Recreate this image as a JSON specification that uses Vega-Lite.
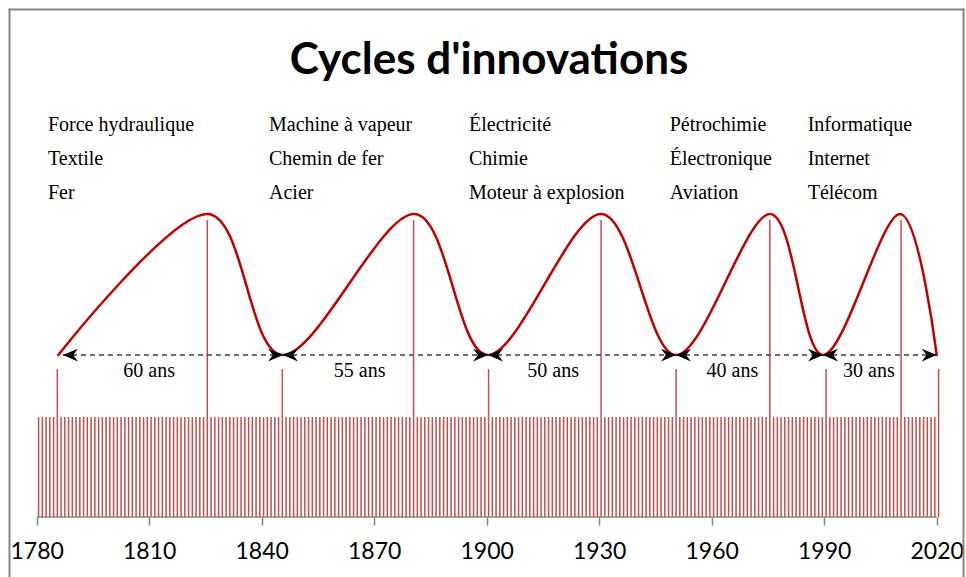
{
  "$schema": "https://vega.github.io/schema/vega-lite/v6.json",
  "width": 954,
  "height": 568,
  "autosize": {"type": "none"},
  "padding": {"left": 9, "top": 9, "right": 3, "bottom": 0},
  "background": "white",
  "title": {"text": "Cycles d'innovations", "font": "Lato", "fontSize": 44, "fontWeight": "bold", "color": "black", "anchor": "middle", "offset": -74, "dx": 3},
  "config": {"view": {"stroke": null}, "axis": {"grid": false}},
  "datasets": {
    "bars": [
      {"year":1780,"v":1},{"year":1781,"v":1},{"year":1782,"v":1},{"year":1783,"v":1},{"year":1784,"v":1},{"year":1785,"v":1.48},{"year":1786,"v":1},{"year":1787,"v":1},{"year":1788,"v":1},{"year":1789,"v":1},
      {"year":1790,"v":1},{"year":1791,"v":1},{"year":1792,"v":1},{"year":1793,"v":1},{"year":1794,"v":1},{"year":1795,"v":1},{"year":1796,"v":1},{"year":1797,"v":1},{"year":1798,"v":1},{"year":1799,"v":1},
      {"year":1800,"v":1},{"year":1801,"v":1},{"year":1802,"v":1},{"year":1803,"v":1},{"year":1804,"v":1},{"year":1805,"v":1},{"year":1806,"v":1},{"year":1807,"v":1},{"year":1808,"v":1},{"year":1809,"v":1},
      {"year":1810,"v":1},{"year":1811,"v":1},{"year":1812,"v":1},{"year":1813,"v":1},{"year":1814,"v":1},{"year":1815,"v":1},{"year":1816,"v":1},{"year":1817,"v":1},{"year":1818,"v":1},{"year":1819,"v":1},
      {"year":1820,"v":1},{"year":1821,"v":1},{"year":1822,"v":1},{"year":1823,"v":1},{"year":1824,"v":1},{"year":1825,"v":2.97},{"year":1826,"v":1},{"year":1827,"v":1},{"year":1828,"v":1},{"year":1829,"v":1},
      {"year":1830,"v":1},{"year":1831,"v":1},{"year":1832,"v":1},{"year":1833,"v":1},{"year":1834,"v":1},{"year":1835,"v":1},{"year":1836,"v":1},{"year":1837,"v":1},{"year":1838,"v":1},{"year":1839,"v":1},
      {"year":1840,"v":1},{"year":1841,"v":1},{"year":1842,"v":1},{"year":1843,"v":1},{"year":1844,"v":1},{"year":1845,"v":1.48},{"year":1846,"v":1},{"year":1847,"v":1},{"year":1848,"v":1},{"year":1849,"v":1},
      {"year":1850,"v":1},{"year":1851,"v":1},{"year":1852,"v":1},{"year":1853,"v":1},{"year":1854,"v":1},{"year":1855,"v":1},{"year":1856,"v":1},{"year":1857,"v":1},{"year":1858,"v":1},{"year":1859,"v":1},
      {"year":1860,"v":1},{"year":1861,"v":1},{"year":1862,"v":1},{"year":1863,"v":1},{"year":1864,"v":1},{"year":1865,"v":1},{"year":1866,"v":1},{"year":1867,"v":1},{"year":1868,"v":1},{"year":1869,"v":1},
      {"year":1870,"v":1},{"year":1871,"v":1},{"year":1872,"v":1},{"year":1873,"v":1},{"year":1874,"v":1},{"year":1875,"v":1},{"year":1876,"v":1},{"year":1877,"v":1},{"year":1878,"v":1},{"year":1879,"v":1},
      {"year":1880,"v":2.97},{"year":1881,"v":1},{"year":1882,"v":1},{"year":1883,"v":1},{"year":1884,"v":1},{"year":1885,"v":1},{"year":1886,"v":1},{"year":1887,"v":1},{"year":1888,"v":1},{"year":1889,"v":1},
      {"year":1890,"v":1},{"year":1891,"v":1},{"year":1892,"v":1},{"year":1893,"v":1},{"year":1894,"v":1},{"year":1895,"v":1},{"year":1896,"v":1},{"year":1897,"v":1},{"year":1898,"v":1},{"year":1899,"v":1},
      {"year":1900,"v":1.48},{"year":1901,"v":1},{"year":1902,"v":1},{"year":1903,"v":1},{"year":1904,"v":1},{"year":1905,"v":1},{"year":1906,"v":1},{"year":1907,"v":1},{"year":1908,"v":1},{"year":1909,"v":1},
      {"year":1910,"v":1},{"year":1911,"v":1},{"year":1912,"v":1},{"year":1913,"v":1},{"year":1914,"v":1},{"year":1915,"v":1},{"year":1916,"v":1},{"year":1917,"v":1},{"year":1918,"v":1},{"year":1919,"v":1},
      {"year":1920,"v":1},{"year":1921,"v":1},{"year":1922,"v":1},{"year":1923,"v":1},{"year":1924,"v":1},{"year":1925,"v":1},{"year":1926,"v":1},{"year":1927,"v":1},{"year":1928,"v":1},{"year":1929,"v":1},
      {"year":1930,"v":2.97},{"year":1931,"v":1},{"year":1932,"v":1},{"year":1933,"v":1},{"year":1934,"v":1},{"year":1935,"v":1},{"year":1936,"v":1},{"year":1937,"v":1},{"year":1938,"v":1},{"year":1939,"v":1},
      {"year":1940,"v":1},{"year":1941,"v":1},{"year":1942,"v":1},{"year":1943,"v":1},{"year":1944,"v":1},{"year":1945,"v":1},{"year":1946,"v":1},{"year":1947,"v":1},{"year":1948,"v":1},{"year":1949,"v":1},
      {"year":1950,"v":1.48},{"year":1951,"v":1},{"year":1952,"v":1},{"year":1953,"v":1},{"year":1954,"v":1},{"year":1955,"v":1},{"year":1956,"v":1},{"year":1957,"v":1},{"year":1958,"v":1},{"year":1959,"v":1},
      {"year":1960,"v":1},{"year":1961,"v":1},{"year":1962,"v":1},{"year":1963,"v":1},{"year":1964,"v":1},{"year":1965,"v":1},{"year":1966,"v":1},{"year":1967,"v":1},{"year":1968,"v":1},{"year":1969,"v":1},
      {"year":1970,"v":1},{"year":1971,"v":1},{"year":1972,"v":1},{"year":1973,"v":1},{"year":1974,"v":1},{"year":1975,"v":2.97},{"year":1976,"v":1},{"year":1977,"v":1},{"year":1978,"v":1},{"year":1979,"v":1},
      {"year":1980,"v":1},{"year":1981,"v":1},{"year":1982,"v":1},{"year":1983,"v":1},{"year":1984,"v":1},{"year":1985,"v":1},{"year":1986,"v":1},{"year":1987,"v":1},{"year":1988,"v":1},{"year":1989,"v":1},
      {"year":1990,"v":1.48},{"year":1991,"v":1},{"year":1992,"v":1},{"year":1993,"v":1},{"year":1994,"v":1},{"year":1995,"v":1},{"year":1996,"v":1},{"year":1997,"v":1},{"year":1998,"v":1},{"year":1999,"v":1},
      {"year":2000,"v":1},{"year":2001,"v":1},{"year":2002,"v":1},{"year":2003,"v":1},{"year":2004,"v":1},{"year":2005,"v":1},{"year":2006,"v":1},{"year":2007,"v":1},{"year":2008,"v":1},{"year":2009,"v":1},
      {"year":2010,"v":2.97},{"year":2011,"v":1},{"year":2012,"v":1},{"year":2013,"v":1},{"year":2014,"v":1},{"year":2015,"v":1},{"year":2016,"v":1},{"year":2017,"v":1},{"year":2018,"v":1},{"year":2019,"v":1},
      {"year":2020,"v":1.48}
    ],
    "curve": [
      {"year":1785.76,"v":1.62},{"year":1825.41,"v":3.03},{"year":1845.68,"v":1.62},{"year":1880.61,"v":3.03},{"year":1900.35,"v":1.62},
      {"year":1930.48,"v":3.03},{"year":1950.48,"v":1.62},{"year":1975.55,"v":3.03},{"year":1989.68,"v":1.62},{"year":2010.21,"v":3.03},{"year":2020,"v":1.62}
    ],
    "arrows": [
      {"a":1787.0,"b":1845.68},{"a":1845.68,"b":1900.35},{"a":1900.35,"b":1950.48},{"a":1950.48,"b":1989.68},{"a":1989.68,"b":2020}
    ],
    "labels": [
      {"x":1783.0,"y":3.86,"t":"Force hydraulique"},{"x":1783.0,"y":3.52,"t":"Textile"},{"x":1783.0,"y":3.18,"t":"Fer"},
      {"x":1841.95,"y":3.86,"t":"Machine à vapeur"},{"x":1841.95,"y":3.52,"t":"Chemin de fer"},{"x":1841.95,"y":3.18,"t":"Acier"},
      {"x":1895.28,"y":3.86,"t":"Électricité"},{"x":1895.28,"y":3.52,"t":"Chimie"},{"x":1895.28,"y":3.18,"t":"Moteur à explosion"},
      {"x":1948.8,"y":3.86,"t":"Pétrochimie"},{"x":1948.8,"y":3.52,"t":"Électronique"},{"x":1948.8,"y":3.18,"t":"Aviation"},
      {"x":1985.6,"y":3.86,"t":"Informatique"},{"x":1985.6,"y":3.52,"t":"Internet"},{"x":1985.6,"y":3.18,"t":"Télécom"}
    ],
    "spans": [
      {"x":1810.0,"y":1.40,"t":"60 ans"},{"x":1866.1,"y":1.40,"t":"55 ans"},{"x":1917.7,"y":1.40,"t":"50 ans"},{"x":1965.5,"y":1.40,"t":"40 ans"},{"x":2001.9,"y":1.40,"t":"30 ans"}
    ]
  },
  "layer": [
    {
      "data": {"name": "bars"},
      "mark": {"type": "rule", "color": "#C0504D", "strokeWidth": 1.5, "xOffset": 1.875},
      "encoding": {
        "x": {"field": "year", "type": "quantitative", "scale": {"domain": [1772.613, 2027.013], "nice": false, "zero": false},
              "axis": {"orient": "bottom", "offset": -60, "values": [1780, 1810, 1840, 1870, 1900, 1930, 1960, 1990, 2020], "format": "d", "domain": false, "ticks": true, "tickColor": "#868686", "tickWidth": 1.5, "tickSize": 8, "labelFont": "Lato", "labelFontSize": 23, "labelColor": "black", "labelBaseline": "alphabetic", "labelPadding": 33, "labelFlush": false, "labelOverlap": false, "title": null}},
        "y": {"field": "v", "type": "quantitative", "scale": {"domain": [-0.6, 5.08], "nice": false, "zero": false},
              "axis": {"orient": "left", "domain": true, "domainColor": "#868686", "domainWidth": 2, "domainCap": "square", "ticks": false, "labels": false, "title": null}},
        "y2": {"datum": 0}
      }
    },
    {
      "data": {"values": [{}]},
      "mark": {"type": "rule", "color": "#868686", "strokeWidth": 1.5},
      "encoding": {
        "x": {"datum": 1780, "type": "quantitative", "scale": {"domain": [1772.613, 2027.013], "nice": false, "zero": false},
              "axis": {"orient": "top", "domain": true, "domainColor": "#868686", "domainWidth": 2, "domainCap": "square", "ticks": false, "labels": false, "title": null}},
        "x2": {"datum": 2020},
        "y": {"datum": 0, "type": "quantitative", "scale": {"domain": [-0.6, 5.08], "nice": false, "zero": false},
              "axis": {"orient": "right", "domain": true, "domainColor": "#868686", "domainWidth": 2, "domainCap": "square", "ticks": false, "labels": false, "title": null}}
      }
    },
    {
      "data": {"name": "curve"},
      "mark": {"type": "line", "color": "#C00000", "strokeWidth": 2.5, "interpolate": "cardinal", "tension": 0, "strokeCap": "round"},
      "encoding": {
        "x": {"field": "year", "type": "quantitative", "scale": {"domain": [1772.613, 2027.013], "nice": false, "zero": false}, "axis": null},
        "y": {"field": "v", "type": "quantitative", "scale": {"domain": [-0.6, 5.08], "nice": false, "zero": false}, "axis": null}
      }
    },
    {
      "data": {"name": "arrows"},
      "mark": {"type": "rule", "color": "#404040", "strokeWidth": 1.5, "strokeDash": [5, 4]},
      "encoding": {
        "x": {"field": "a", "type": "quantitative", "scale": {"domain": [1772.613, 2027.013], "nice": false, "zero": false}, "axis": null},
        "x2": {"field": "b"},
        "y": {"datum": 1.62, "type": "quantitative", "scale": {"domain": [-0.6, 5.08], "nice": false, "zero": false}, "axis": null}
      }
    },
    {
      "data": {"name": "arrows"},
      "mark": {"type": "point", "shape": "M0,0L2,-0.85L1.35,0L2,0.85Z", "filled": true, "color": "black", "opacity": 1, "size": 225},
      "encoding": {
        "x": {"field": "a", "type": "quantitative", "scale": {"domain": [1772.613, 2027.013], "nice": false, "zero": false}, "axis": null},
        "y": {"datum": 1.62, "type": "quantitative", "scale": {"domain": [-0.6, 5.08], "nice": false, "zero": false}, "axis": null}
      }
    },
    {
      "data": {"name": "arrows"},
      "mark": {"type": "point", "shape": "M0,0L-2,-0.85L-1.35,0L-2,0.85Z", "filled": true, "color": "black", "opacity": 1, "size": 225},
      "encoding": {
        "x": {"field": "b", "type": "quantitative", "scale": {"domain": [1772.613, 2027.013], "nice": false, "zero": false}, "axis": null},
        "y": {"datum": 1.62, "type": "quantitative", "scale": {"domain": [-0.6, 5.08], "nice": false, "zero": false}, "axis": null}
      }
    },
    {
      "data": {"name": "labels"},
      "mark": {"type": "text", "align": "left", "baseline": "alphabetic", "font": "Liberation Serif", "fontSize": 20, "color": "black"},
      "encoding": {
        "x": {"field": "x", "type": "quantitative", "scale": {"domain": [1772.613, 2027.013], "nice": false, "zero": false}, "axis": null},
        "y": {"field": "y", "type": "quantitative", "scale": {"domain": [-0.6, 5.08], "nice": false, "zero": false}, "axis": null},
        "text": {"field": "t"}
      }
    },
    {
      "data": {"name": "spans"},
      "mark": {"type": "text", "align": "center", "baseline": "alphabetic", "font": "Liberation Serif", "fontSize": 20, "color": "black"},
      "encoding": {
        "x": {"field": "x", "type": "quantitative", "scale": {"domain": [1772.613, 2027.013], "nice": false, "zero": false}, "axis": null},
        "y": {"field": "y", "type": "quantitative", "scale": {"domain": [-0.6, 5.08], "nice": false, "zero": false}, "axis": null},
        "text": {"field": "t"}
      }
    }
  ],
  "resolve": {"axis": {"x": "independent", "y": "independent"}}
}
